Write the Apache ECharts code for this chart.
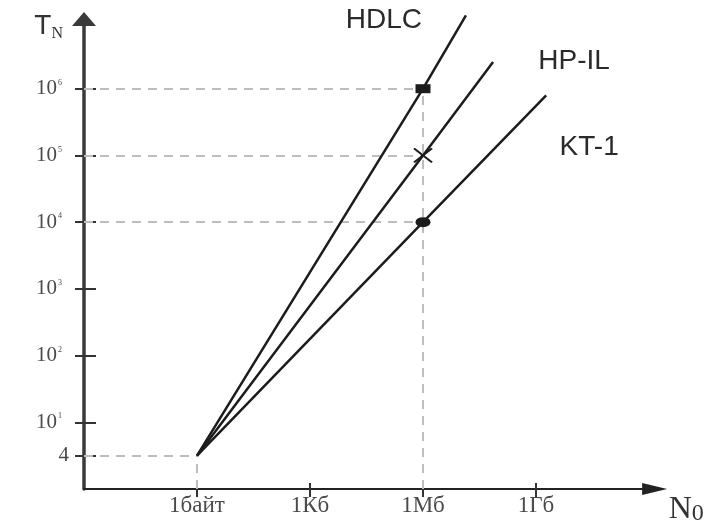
<!DOCTYPE html>
<html><head><meta charset="utf-8">
<script src="https://cdn.jsdelivr.net/npm/echarts@6/dist/echarts.min.js"></script>
<style>html,body{margin:0;padding:0;background:#fff}#c{width:722px;height:526px}</style>
</head><body><div id="c"></div>
<script>
// ---- data ----
const xTickPos = [1, 2, 3, 4];
const xTickLabels = ['1байт', '1Кб', '1Мб', '1Гб'];
const yTickPos = [0.5, 1, 2, 3, 4, 5, 6];
const yTickBase = ['4', '10', '10', '10', '10', '10', '10'];
const yTickSup = ['', '1', '2', '3', '4', '5', '6'];
const seriesNames = ['HDLC', 'HP-IL', 'KT-1'];
const hdlcPoints = [[1, 0.5], [3, 6], [3.38, 7.1]];
const hpilPoints = [[1, 0.5], [3, 5], [3.62, 6.4]];
const kt1Points = [[1, 0.5], [3, 4], [4.09, 5.9]];
const markedIndex = 1;

// ---- styles ----
const ink = '#1c1c1c';
const labelGrey = '#4a4a4a';
const markerStyles = [
  { symbol: 'rect', symbolSize: [15, 9], itemStyle: { color: ink, borderWidth: 0 } },
  { symbol: 'path://M0,0L16,12M16,0L0,12', symbolSize: [18, 14], itemStyle: { color: 'none', borderColor: ink, borderWidth: 2 } },
  { symbol: 'circle', symbolSize: [15, 10], itemStyle: { color: ink, borderWidth: 0 } }
];
const labelOffsets = [[-82, 5], [81, -1], [43, 52]];

const allPoints = [hdlcPoints, hpilPoints, kt1Points];

function buildSeries(points, idx) {
  const data = points.map((p, i) => {
    if (i === markedIndex) {
      return Object.assign({ value: p }, markerStyles[idx]);
    }
    if (i === points.length - 1) {
      return {
        value: p, symbol: 'circle', symbolSize: 0, itemStyle: { borderWidth: 0, color: ink },
        label: {
          show: true, formatter: seriesNames[idx], position: labelOffsets[idx],
          align: 'center', verticalAlign: 'middle',
          fontFamily: 'Liberation Sans', fontSize: 28, color: '#2a2a2a'
        }
      };
    }
    return { value: p, symbol: 'none' };
  });
  return {
    type: 'line', name: seriesNames[idx], data: data, clip: false, z: 3,
    showSymbol: true, showAllSymbol: true, silent: true,
    lineStyle: { color: ink, width: 2.5 },
    itemStyle: { color: ink },
    emphasis: { disabled: true }
  };
}

// guide (dashed) lines built from the data
const guideLines = [];
allPoints.forEach(p => {
  const m = p[markedIndex];
  guideLines.push([{ coord: [0, m[1]] }, { coord: [m[0], m[1]] }]);
});
const topMark = allPoints.reduce((a, p) => p[markedIndex][1] > a[1] ? p[markedIndex] : a, [0, -Infinity]);
guideLines.push([{ coord: [topMark[0], 0] }, { coord: [topMark[0], topMark[1]] }]);
const start = hdlcPoints[0];
guideLines.push([{ coord: [0, start[1]] }, { coord: [start[0], start[1]] }]);
guideLines.push([{ coord: [start[0], 0] }, { coord: [start[0], start[1]] }]);

const axisInk = { color: '#333', width: 2 };

const option = {
  animation: false,
  backgroundColor: '#fff',
  grid: { left: 84, top: 22, width: 570.65, height: 467, containLabel: false, outerBoundsMode: 'none' },
  xAxis: [{
    type: 'value', min: 0, max: 5.05, position: 'bottom',
    axisLine: { show: true, onZero: false, symbol: ['none', 'triangle'], symbolSize: [12, 25], lineStyle: { color: '#222', width: 2 } },
    axisTick: { show: true, customValues: xTickPos, length: 8, lineStyle: axisInk },
    axisLabel: {
      customValues: xTickPos, margin: 5,
      formatter: v => { const i = xTickPos.indexOf(v); return i >= 0 ? xTickLabels[i] : ''; },
      fontFamily: 'Liberation Serif', fontSize: 23, color: labelGrey, verticalAlign: 'top'
    },
    splitLine: { show: false },
    name: '{t|N}{s|0}', nameLocation: 'end', nameGap: 14, nameMoveOverlap: false,
    nameTextStyle: {
      align: 'left', verticalAlign: 'top', padding: [5, 0, 0, 0],
      rich: {
        t: { fontFamily: 'Liberation Serif', fontSize: 32, lineHeight: 32, verticalAlign: 'top', color: '#333' },
        s: { fontFamily: 'Liberation Serif', fontSize: 24, lineHeight: 24, verticalAlign: 'bottom', padding: [12, 0, 0, 0], color: '#333' }
      }
    }
  }, {
    type: 'value', min: 0, max: 5.05, position: 'bottom',
    axisLine: { show: false },
    axisTick: { show: true, inside: true, customValues: xTickPos, length: 6, lineStyle: axisInk },
    axisLabel: { show: false }, splitLine: { show: false }
  }],
  yAxis: [{
    type: 'value', min: 0, max: 7, position: 'left',
    axisLine: { show: true, onZero: false, symbol: ['none', 'triangle'], symbolSize: [24, 14], symbolOffset: [0, 3], lineStyle: { color: '#3a3a3a', width: 3.5 } },
    axisTick: { show: true, customValues: yTickPos, length: 9, lineStyle: axisInk },
    axisLabel: {
      customValues: yTickPos, margin: 15,
      formatter: v => {
        const i = yTickPos.indexOf(v);
        if (i < 0) return '';
        return yTickSup[i] ? '{a|' + yTickBase[i] + '}{s|' + yTickSup[i] + '}' : '{a|' + yTickBase[i] + '}';
      },
      rich: {
        a: { fontFamily: 'Liberation Serif', fontSize: 21, lineHeight: 20, color: labelGrey },
        s: { fontFamily: 'Liberation Serif', fontSize: 8, lineHeight: 8, verticalAlign: 'top', padding: [0, 7, 0, 1], color: labelGrey }
      }
    },
    splitLine: { show: false },
    name: '{t|T}{n|N}', nameLocation: 'end', nameGap: 10, nameMoveOverlap: false,
    nameTextStyle: {
      align: 'right', verticalAlign: 'top', padding: [0, 21, 0, 0],
      rich: {
        t: { fontFamily: 'Liberation Sans', fontSize: 28, lineHeight: 30, verticalAlign: 'top', color: '#333' },
        n: { fontFamily: 'Liberation Serif', fontSize: 16, lineHeight: 16, verticalAlign: 'bottom', padding: [18, 0, 0, 0], color: '#333' }
      }
    }
  }, {
    type: 'value', min: 0, max: 7, position: 'left',
    axisLine: { show: false },
    axisTick: { show: true, inside: true, customValues: yTickPos, length: 12, lineStyle: axisInk },
    axisLabel: { show: false }, splitLine: { show: false }
  }],
  series: [
    {
      type: 'line', data: [start], symbol: 'none', silent: true, z: 1,
      lineStyle: { opacity: 0 },
      markLine: {
        z: 1,
        silent: true, symbol: ['none', 'none'], label: { show: false },
        lineStyle: { color: '#bdbdbd', width: 2, type: [9, 7] },
        emphasis: { disabled: true },
        data: guideLines
      }
    }
  ].concat(allPoints.map(buildSeries))
};

const chart = echarts.init(document.getElementById('c'));
chart.setOption(option);
</script>
</body></html>
